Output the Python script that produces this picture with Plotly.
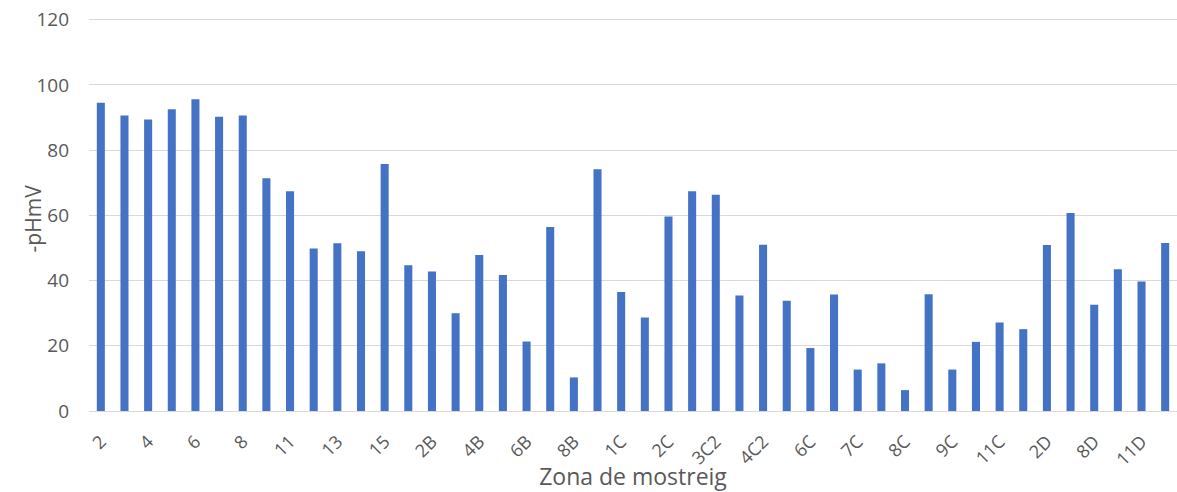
import plotly.graph_objects as go

# Sampling zones (every bar) and the labels printed on the axis
zones = [
    "2", "3", "4", "5", "6", "7", "8", "9", "11", "12", "13", "14", "15",
    "1B", "2B", "3B", "4B", "5B", "6B", "7B", "8B", "9B",
    "1C", "1C2", "2C", "3C", "3C2", "4C", "4C2", "5C", "6C", "6C2",
    "7C", "7C2", "8C", "8C2", "9C", "10C", "11C",
    "1D", "2D", "5D", "8D", "10D", "11D", "12D",
]
ph_mv = [
    94.5, 90.6, 89.4, 92.5, 95.6, 90.2, 90.6, 71.4, 67.4, 49.8, 51.4, 49.0, 75.7,
    44.7, 42.8, 30.0, 47.8, 41.7, 21.3, 56.4, 10.3, 74.1,
    36.5, 28.7, 59.6, 67.4, 66.3, 35.4, 51.0, 33.8, 19.3, 35.7,
    12.7, 14.6, 6.4, 35.8, 12.7, 21.2, 27.1, 25.1,
    50.9, 60.7, 32.6, 43.5, 39.7, 51.5,
]
shown_labels = [
    "2", "4", "6", "8", "11", "13", "15", "2B", "4B", "6B", "8B", "1C",
    "2C", "3C2", "4C2", "6C", "7C", "8C", "9C", "11C", "2D", "8D", "11D",
]
y_ticks = [0, 20, 40, 60, 80, 100, 120]

font_family = "Open Sans, Noto Sans, sans-serif"
text_gray = "#595959"
grid_gray = "#d9d9d9"

fig = go.Figure(
    go.Bar(
        x=zones,
        y=ph_mv,
        marker=dict(color="#4472C4", line=dict(width=0)),
    )
)

fig.update_layout(
    width=1177,
    height=492,
    margin=dict(l=89, r=0, t=18, b=81),
    paper_bgcolor="white",
    plot_bgcolor="white",
    bargap=0.66,
    showlegend=False,
    font=dict(family=font_family, color=text_gray, size=18),
)

fig.update_xaxes(
    type="category",
    tickmode="array",
    tickvals=shown_labels,
    ticktext=shown_labels,
    tickangle=-45,
    tickfont=dict(size=18, color=text_gray),
    showgrid=False,
    showline=True,
    linecolor=grid_gray,
    linewidth=1,
    ticks="",
    ticklabelstandoff=12,
    title=dict(text="Zona de mostreig", font=dict(size=23, color=text_gray), standoff=0),
)

fig.update_yaxes(
    range=[0, 120.5],
    tickmode="array",
    tickvals=y_ticks,
    showgrid=True,
    gridcolor=grid_gray,
    gridwidth=1,
    zeroline=False,
    showline=False,
    ticks="",
    ticklabelstandoff=19,
    tickfont=dict(size=19, color=text_gray),
)

# Vertical axis title, placed close to the tick labels
fig.add_annotation(
    text="-pHmV",
    textangle=-90,
    xref="paper",
    yref="paper",
    x=-0.0515,
    y=0.49,
    xanchor="center",
    yanchor="middle",
    showarrow=False,
    font=dict(size=21, color=text_gray, family=font_family),
)

fig.write_html("out.html")
